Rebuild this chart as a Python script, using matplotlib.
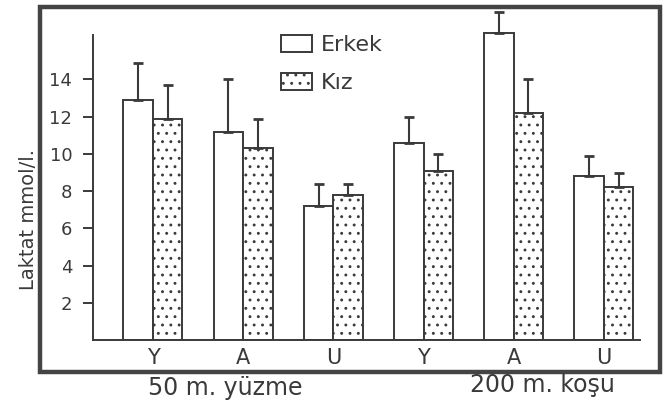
import numpy as np
import matplotlib.pyplot as plt
from matplotlib.patches import Rectangle

# lactate values (mmol/l)
groups = ['Y', 'A', 'U', 'Y', 'A', 'U']
erkek = [12.9, 11.2, 7.2, 10.6, 16.5, 8.8]
erkek_err = [2.0, 2.8, 1.2, 1.4, 1.1, 1.1]
kiz = [11.9, 10.3, 7.8, 9.1, 12.2, 8.2]
kiz_err = [1.8, 1.6, 0.6, 0.9, 1.8, 0.8]
yticks = [2, 4, 6, 8, 10, 12, 14]
events = ['50 m. yüzme', '200 m. koşu']

ink = '#3a3a3a'
plt.rcParams['hatch.linewidth'] = 0.9
plt.rcParams['hatch.color'] = ink

fig = plt.figure(figsize=(6.67, 4.03), dpi=100)
fig.patch.set_facecolor('white')
ax = fig.add_axes([93/667, 63/403, 547/667, 335/403])

x = np.arange(len(groups))
w = 0.327
b1 = ax.bar(x - w/2, erkek, w, color='white', edgecolor=ink, linewidth=1.4, label='Erkek')
b2 = ax.bar(x + w/2, kiz, w, color='white', edgecolor=ink, linewidth=1.4,
            hatch='..', label='Kız')
ax.errorbar(x - w/2, erkek, yerr=[np.zeros(len(erkek)), erkek_err], fmt='none',
            ecolor=ink, elinewidth=1.5, capsize=3.5, capthick=2)
ax.errorbar(x + w/2, kiz, yerr=[np.zeros(len(kiz)), kiz_err], fmt='none',
            ecolor=ink, elinewidth=1.5, capsize=3.5, capthick=2)

ax.set_xlim(-0.665, 5.40)
ax.set_ylim(0, 18.0)
ax.set_xticks(x)
ax.set_xticklabels(groups, fontsize=15, color=ink)
ax.set_yticks(yticks)
ax.set_yticklabels([str(t) for t in yticks], fontsize=13, color=ink)
ax.tick_params(axis='x', length=0, pad=6)
ax.tick_params(axis='y', direction='out', length=7, width=1.4, color=ink, pad=8)
for s in ['top', 'right']:
    ax.spines[s].set_visible(False)
for s in ['left', 'bottom']:
    ax.spines[s].set_color(ink)
    ax.spines[s].set_linewidth(1.4)
ax.spines['left'].set_bounds(0, 16.4)
ax.patch.set_alpha(0)

ax.legend(handles=[b1, b2], loc='upper left', bbox_to_anchor=(270/667, 1 - 24/403),
          bbox_transform=fig.transFigure, frameon=False, fontsize=16,
          handlelength=1.4, handleheight=0.75, handletextpad=0.4,
          labelspacing=0.82, borderpad=0, labelcolor=ink)

fig.text(28/667, 1 - 220/403, 'Laktat mmol/l.', rotation=90, fontsize=14,
         color=ink, ha='center', va='center')
fig.text(225/667, 1 - 388/403, events[0], fontsize=17, color=ink, ha='center', va='center')
fig.text(542/667, 1 - 385/403, events[1], fontsize=17, color=ink, ha='center', va='center')

# thick hand drawn frame around the plot
fig.patches.append(Rectangle((40/667, 1 - 372/403), 620/667, 365/403,
                             transform=fig.transFigure, fill=False,
                             edgecolor='#444444', linewidth=3.2))

fig.savefig('out.png', dpi=100)
